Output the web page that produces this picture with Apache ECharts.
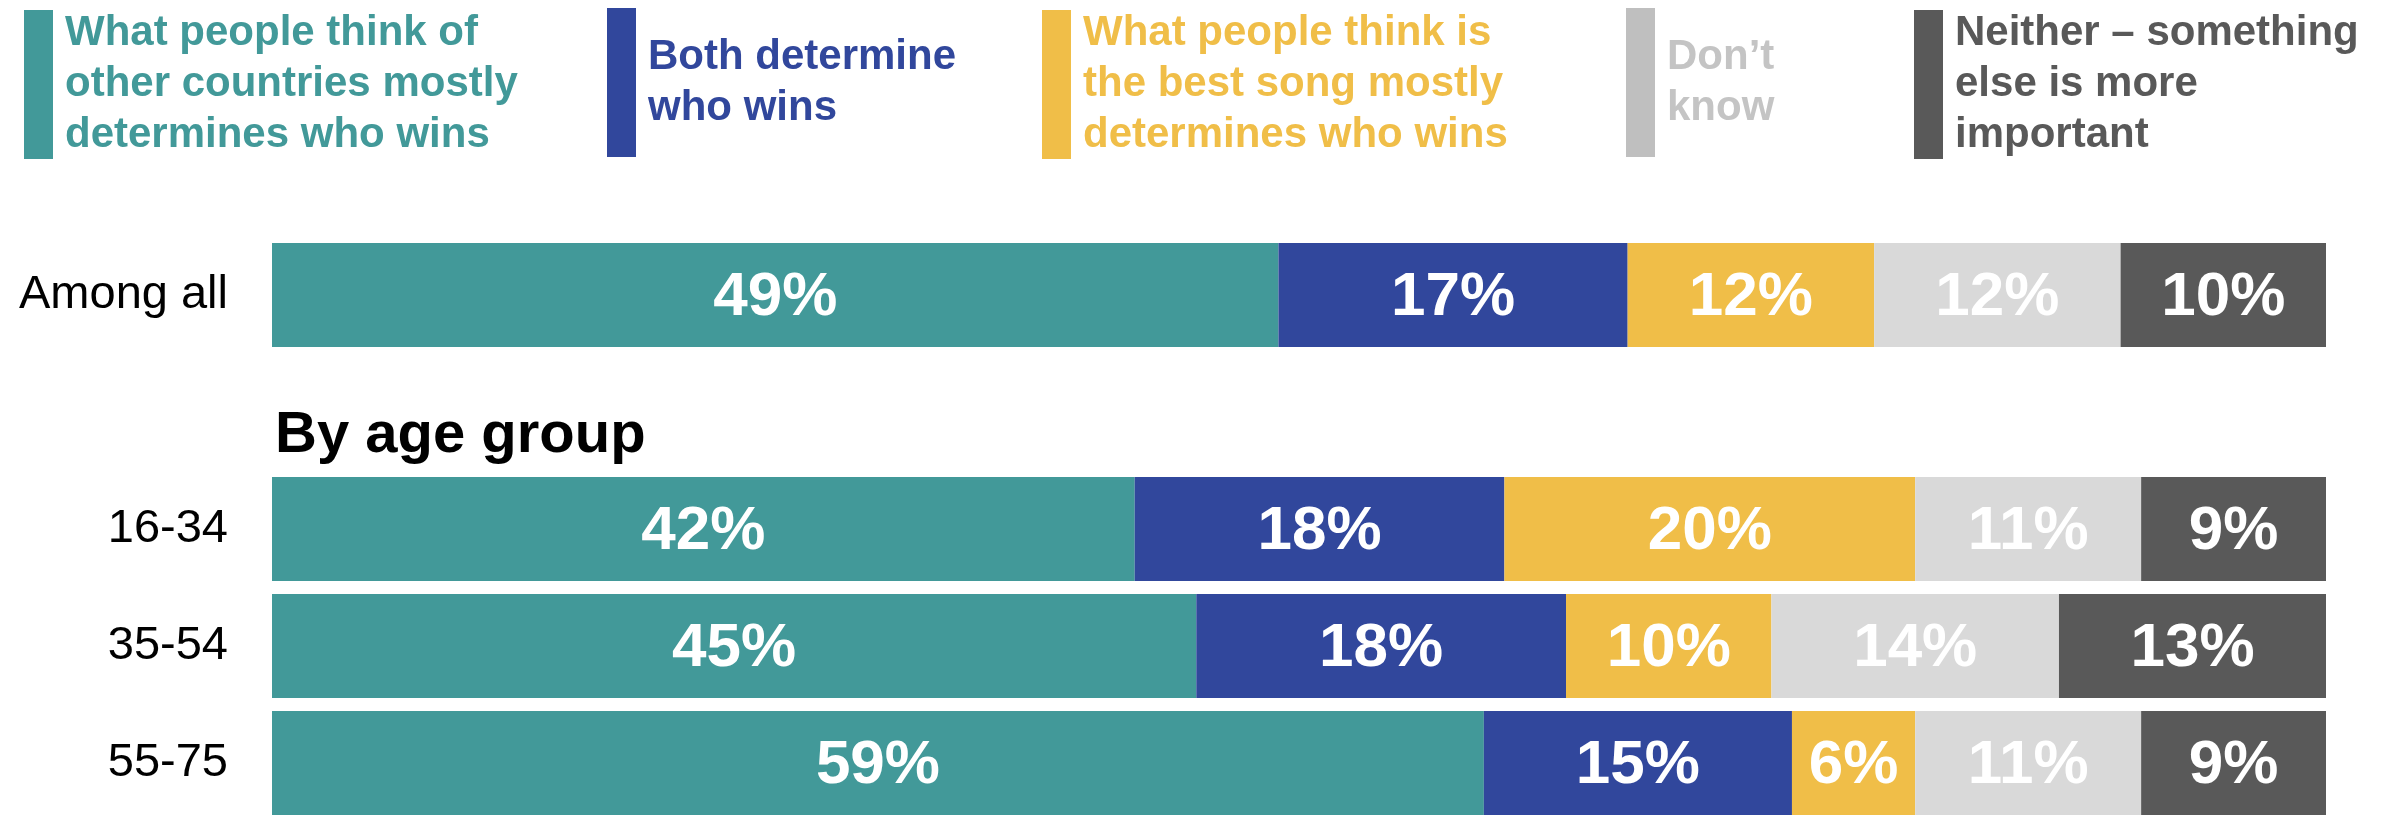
<!DOCTYPE html>
<html>
<head>
<meta charset="utf-8">
<script src="https://cdn.jsdelivr.net/npm/echarts@6/dist/echarts.min.js"></script>
<style>
  html, body { margin: 0; padding: 0; background: #fff; }
  #main { width: 2395px; height: 816px; }
</style>
</head>
<body>
<div id="main"></div>
<script>
// rows (blank row holds the "By age group" heading)
var categories = ['Among all', '', '16-34', '35-54', '55-75'];

var seriesNames = [
    'What people think of\nother countries mostly\ndetermines who wins',
    'Both determine\nwho wins',
    'What people think is\nthe best song mostly\ndetermines who wins',
    'Don\u2019t\nknow',
    'Neither \u2013 something\nelse is more\nimportant'
];

// percentages per answer, in row order
var otherCountries = [49, '-', 42, 45, 59];
var bothDetermine  = [17, '-', 18, 18, 15];
var bestSong       = [12, '-', 20, 10, 6];
var dontKnow       = [12, '-', 11, 14, 11];
var neither        = [10, '-', 9, 13, 9];

var seriesData = [otherCountries, bothDetermine, bestSong, dontKnow, neither];

var barColors    = ['#429999', '#31479c', '#f0be48', '#d9d9d9', '#595959'];
var swatchColors = ['#429999', '#31479c', '#f0be48', '#bfbfbf', '#595959'];
var legendText   = ['#429999', '#31479c', '#f0be48', '#c4c4c4', '#595959'];
var legendLeft   = [24, 607, 1042, 1626, 1914];

var fontFam = 'Arial, "Liberation Sans", sans-serif';

var myChart = echarts.init(document.getElementById('main'));

var legends = seriesNames.map(function (name, i) {
    return {
        left: legendLeft[i],
        top: 8,
        padding: 0,
        orient: 'vertical',
        selectedMode: false,
        icon: 'rect',
        itemWidth: 29,
        itemHeight: 149,
        data: [{
            name: name,
            itemStyle: { color: swatchColors[i] }
        }],
        textStyle: {
            color: legendText[i],
            fontSize: 42,
            lineHeight: 51,
            fontWeight: 'bold',
            fontFamily: fontFam,
            padding: [0, 0, 0, 7]
        }
    };
});

var series = seriesNames.map(function (name, i) {
    return {
        name: name,
        type: 'bar',
        stack: 'total',
        barWidth: 104,
        clip: false,
        data: seriesData[i],
        itemStyle: { color: barColors[i] },
        emphasis: { disabled: true },
        label: {
            show: true,
            position: 'inside',
            formatter: '{c}%',
            offset: [0, 3],
            color: '#ffffff',
            fontSize: 62,
            fontWeight: 'bold',
            fontFamily: fontFam
        }
    };
});

var option = {
    animation: false,
    backgroundColor: '#ffffff',
    legend: legends,
    grid: {
        left: 272,
        right: 69,
        top: 295,
        height: 468,
        containLabel: false
    },
    xAxis: {
        type: 'value',
        min: 0,
        max: 100,
        show: false
    },
    yAxis: {
        type: 'category',
        inverse: true,
        boundaryGap: false,
        data: categories,
        axisLine: { show: false },
        axisTick: { show: false },
        splitLine: { show: false },
        axisLabel: {
            margin: 44,
            color: '#000000',
            fontSize: 47,
            fontFamily: fontFam,
            padding: [6, 0, 0, 0]
        }
    },
    graphic: [{
        type: 'text',
        x: 275,
        y: 436,
        style: {
            text: 'By age group',
            fill: '#000000',
            font: 'bold 58px ' + fontFam,
            verticalAlign: 'middle',
            align: 'left'
        }
    }],
    series: series
};

myChart.setOption(option);
</script>
</body>
</html>
